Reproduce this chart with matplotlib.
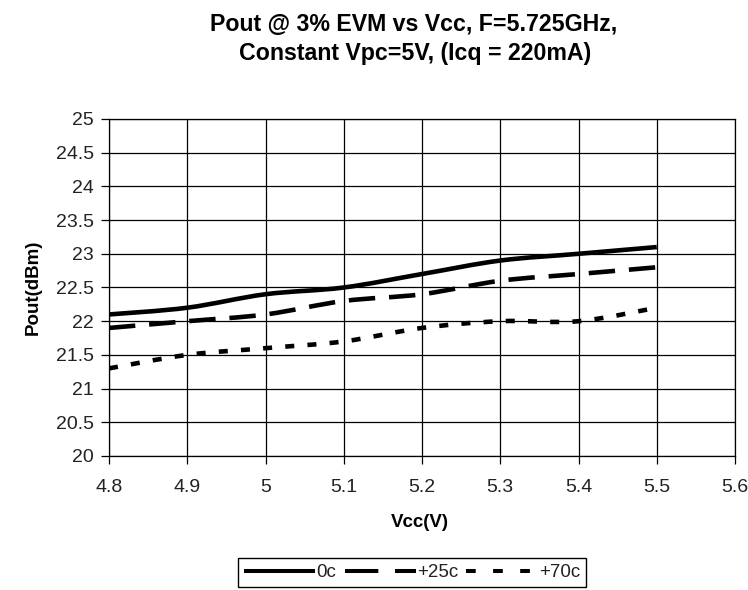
import numpy as np
import matplotlib
matplotlib.use('Agg')
import matplotlib.pyplot as plt
from matplotlib.path import Path
from matplotlib.patches import PathPatch
from matplotlib.lines import Line2D

plt.rcParams['font.family'] = ['Liberation Sans', 'DejaVu Sans']
plt.rcParams['lines.scale_dashes'] = False

# ---- data ----
vcc = [4.8, 4.9, 5.0, 5.1, 5.2, 5.3, 5.4, 5.5]
pout_0c = [22.1, 22.2, 22.4, 22.5, 22.7, 22.9, 23.0, 23.1]
pout_25c = [21.9, 22.0, 22.1, 22.3, 22.4, 22.6, 22.7, 22.8]
pout_70c = [21.3, 21.5, 21.6, 21.7, 21.9, 22.0, 22.0, 22.2]
series_labels = ['0c', '+25c', '+70c']

x_ticks = [4.8, 4.9, 5.0, 5.1, 5.2, 5.3, 5.4, 5.5, 5.6]
x_tick_labels = ['4.8', '4.9', '5', '5.1', '5.2', '5.3', '5.4', '5.5', '5.6']
y_ticks = [20, 20.5, 21, 21.5, 22, 22.5, 23, 23.5, 24, 24.5, 25]
y_tick_labels = ['20', '20.5', '21', '21.5', '22', '22.5', '23', '23.5', '24', '24.5', '25']

title_1 = 'Pout @ 3% EVM vs Vcc, F=5.725GHz,'
title_2 = 'Constant Vpc=5V, (Icq = 220mA)'
x_label = 'Vcc(V)'
y_label = 'Pout(dBm)'


def smooth_path(x, y):
    """Excel-like smoothed line: cubic Bezier segments through the data points."""
    P = np.column_stack([x, y]).astype(float)
    n = len(P)
    verts = [P[0]]
    codes = [Path.MOVETO]
    for i in range(n - 1):
        p_prev = P[max(i - 1, 0)]
        p_next2 = P[min(i + 2, n - 1)]
        c1 = P[i] + (P[i + 1] - p_prev) / 6.0
        c2 = P[i + 1] - (p_next2 - P[i]) / 6.0
        verts += [c1, c2, P[i + 1]]
        codes += [Path.CURVE4] * 3
    return Path(verts, codes)


W, H = 748, 590
fig = plt.figure(figsize=(W / 100, H / 100), dpi=100, facecolor='white')
left, right, top, bottom = 109, 735, 119, 456
ax = fig.add_axes([left / W, 1 - bottom / H, (right - left) / W, (bottom - top) / H])

ax.set_xlim(4.8, 5.6)
ax.set_ylim(20, 25)
ax.set_xticks(x_ticks)
ax.set_xticklabels(x_tick_labels)
ax.set_yticks(y_ticks)
ax.set_yticklabels(y_tick_labels)
ax.grid(True, color='black', lw=0.9)
ax.set_axisbelow(True)
for s in ax.spines.values():
    s.set_color('black')
    s.set_linewidth(0.9)
ax.tick_params(direction='out', length=5.5, width=0.9, labelsize=14, colors='black',
               labelcolor='#222222')
ax.tick_params(axis='x', pad=11)
ax.tick_params(axis='y', pad=5.5)

styles = [
    dict(linestyle='solid', lw=3.3),
    dict(linestyle=(0, (19, 10)), lw=3.3),
    dict(linestyle=(0, (6.5, 9.5)), lw=3.3),
]
for yv, st in zip([pout_0c, pout_25c, pout_70c], styles):
    patch = PathPatch(smooth_path(vcc, yv), fill=False, edgecolor='black',
                      capstyle='butt', joinstyle='round', transform=ax.transData, **st)
    ax.add_patch(patch)

# titles and labels
fig.text(414 / W, 1 - 31 / H, title_1, ha='center', va='baseline', fontsize=16.7,
         fontweight='bold')
fig.text(415 / W, 1 - 60 / H, title_2, ha='center', va='baseline', fontsize=16.7,
         fontweight='bold')
ax.set_xlabel(x_label, fontsize=13.5, fontweight='bold')
ax.xaxis.label.set_va('baseline')
ax.xaxis.set_label_coords((420 - left) / (right - left), (bottom - 527) / (bottom - top))
ax.set_ylabel(y_label, fontsize=13.5, fontweight='bold')
ax.yaxis.label.set_va('center')
ax.yaxis.set_label_coords((33 - left) / (right - left), 0.5)

# legend with proxy handles (legend dash pattern differs from plot)
handles = [
    Line2D([], [], color='black', lw=2.9, linestyle='solid', solid_capstyle='butt'),
    Line2D([], [], color='black', lw=2.9, linestyle=(0, (24, 12)), dash_capstyle='butt'),
    Line2D([], [], color='black', lw=2.9, linestyle=(0, (7, 12.5)), dash_capstyle='butt'),
]
leg = fig.legend(handles, series_labels, loc='center',
                 bbox_to_anchor=(412 / W, 1 - 572.5 / H), ncol=3, fontsize=13.5,
                 frameon=True, fancybox=False, shadow=False, framealpha=1,
                 edgecolor='black', handlelength=3.8, handletextpad=0.05,
                 columnspacing=0.45, borderpad=0.3, borderaxespad=0)
leg.get_frame().set_linewidth(1.0)
for t in leg.get_texts():
    t.set_color('#222222')

fig.savefig('out.png', dpi=100, facecolor='white')
